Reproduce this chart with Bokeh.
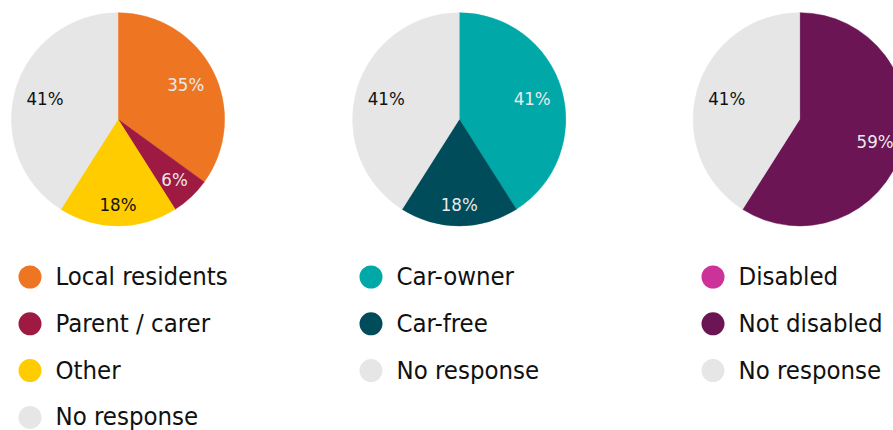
import math
from bokeh.plotting import figure
from bokeh.models import Range1d
from bokeh.core.properties import value
from bokeh.embed import file_html
from bokeh.resources import INLINE

# ---- data ----
pie1_labels = ["Local residents", "Parent / carer", "Other", "No response"]
pie1_values = [35, 6, 18, 41]
pie1_colors = ["#EE7623", "#9F1A42", "#FFCC00", "#E6E6E6"]

pie2_labels = ["Car-owner", "Car-free", "No response"]
pie2_values = [41, 18, 41]
pie2_colors = ["#00A8A8", "#004C5A", "#E6E6E6"]

pie3_labels = ["Disabled", "Not disabled", "No response"]
pie3_values = [0, 59, 41]
pie3_colors = ["#CC3399", "#6B1555", "#E6E6E6"]

# label text colour per slice (light text on dark slices)
pie1_text = ["#EAEAEA", "#EAEAEA", "#111111", "#111111"]
pie2_text = ["#EAEAEA", "#EAEAEA", "#111111"]
pie3_text = ["#EAEAEA", "#EAEAEA", "#111111"]

FONT = "DejaVu Sans Condensed"
W, H = 893, 430

p = figure(width=W, height=H, output_backend="svg", toolbar_location=None,
           x_range=Range1d(0, W), y_range=Range1d(0, H),
           min_border=0, outline_line_color=None, background_fill_color="white",
           border_fill_color="white")
p.axis.visible = False
p.xgrid.visible = False
p.ygrid.visible = False


def py(y):
    # page y (top-down) -> data y
    return H - y


groups = [
    (pie1_labels, pie1_values, pie1_colors, pie1_text, 117.5, 12.0),
    (pie2_labels, pie2_values, pie2_colors, pie2_text, 458.7, 353.0),
    (pie3_labels, pie3_values, pie3_colors, pie3_text, 799.2, 695.0),
]
CY = 118.8
R = 106.6
LABEL_D = 76.0

for labels, values, colors, tcolors, cx, lx in groups:
    total = float(sum(values))
    cum = 0.0
    starts, ends, cols = [], [], []
    tx, ty, tt, tc = [], [], [], []
    for v, c, t in zip(values, colors, tcolors):
        a0 = math.pi / 2 - 2 * math.pi * cum / total
        a1 = math.pi / 2 - 2 * math.pi * (cum + v) / total
        if v > 0:
            starts.append(a0)
            ends.append(a1)
            cols.append(c)
            mid = (cum + v / 2) / total * 2 * math.pi  # clockwise from top
            s, co = math.sin(mid), math.cos(mid)
            d = LABEL_D + 9 * max(0.0, -co)
            tx.append(cx + d * s)
            ty.append(py(CY - d * co))
            tt.append(f"{v}%")
            tc.append(t)
        cum += v
    p.wedge(x=[cx] * len(starts), y=[py(CY)] * len(starts), radius=R,
            start_angle=starts, end_angle=ends, direction="clock",
            fill_color=cols, line_color=cols, line_width=0.5)
    p.text(x=tx, y=ty, text=tt, text_color=tc, text_font=value(FONT),
           text_font_size="18.5px", text_align="center", text_baseline="middle")

    # legend
    rows = [276.5 + i * 46.8 for i in range(len(labels))]
    p.scatter(x=[lx + 17.5] * len(labels), y=[py(r) for r in rows], size=23,
              fill_color=colors, line_color=None)
    p.text(x=[lx + 43] * len(labels), y=[py(r - 1) for r in rows], text=labels,
           text_color="#111111", text_font=value(FONT), text_font_size="25.5px",
           text_align="left", text_baseline="middle")

open("out.html", "w").write(file_html(p, INLINE))
